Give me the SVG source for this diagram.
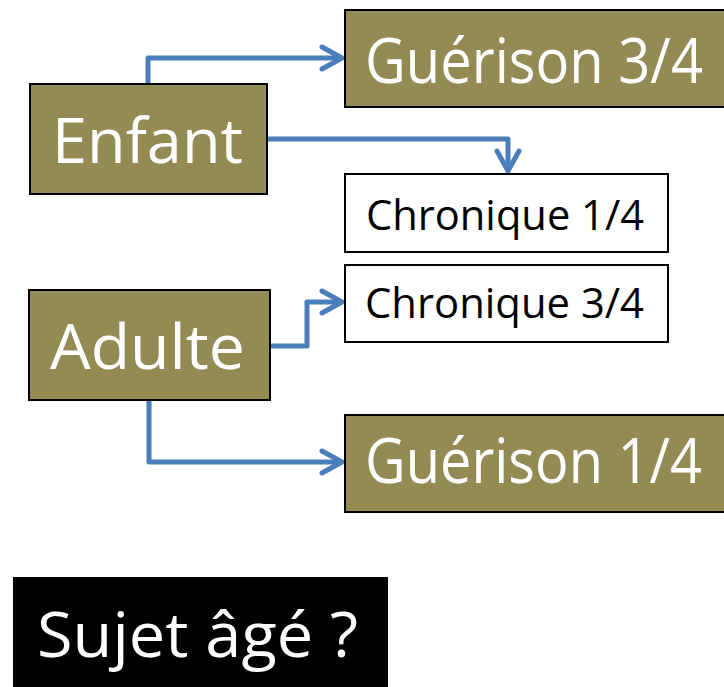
<svg xmlns="http://www.w3.org/2000/svg" width="724" height="687" viewBox="0 0 724 687">
<defs>
<style>
.olive{fill:#948a54;stroke:#000;stroke-width:2}
.white{fill:#fff;stroke:#000;stroke-width:2}
.big{font-family:"Open Sans","Liberation Sans",sans-serif;font-size:63px;fill:#fff}
.small{font-family:"Open Sans","Liberation Sans",sans-serif;font-size:42px;fill:#000}
.conn{fill:none;stroke:#4a7ebb;stroke-width:5;stroke-linejoin:round}
.head{fill:none;stroke:#4a7ebb;stroke-width:5;stroke-linecap:round;stroke-linejoin:round}
</style>
</defs>
<rect width="724" height="687" fill="#fff"/>
<g id="connectors">
<path class="conn" d="M148,84 V58 H341"/>
<path class="head" d="M322,47 L342,58 L322,69"/>
<path class="conn" d="M267,139 H508 V170"/>
<path class="head" d="M497,151 L508,171 L519,151"/>
<path class="conn" d="M271,346 H307 V302 H341"/>
<path class="head" d="M322,291 L342,302 L322,313"/>
<path class="conn" d="M149,400 V462 H341"/>
<path class="head" d="M322,451 L342,462 L322,473"/>
</g>
<g id="guerison34">
<rect class="olive" x="345" y="10" width="390" height="97"/>
<text class="big" x="365" y="83" textLength="338" lengthAdjust="spacingAndGlyphs">Guérison 3/4</text>
</g>
<g id="enfant">
<rect class="olive" x="30" y="84" width="237" height="110"/>
<text class="big" x="52" y="163" textLength="191" lengthAdjust="spacingAndGlyphs">Enfant</text>
</g>
<g id="chronique14">
<rect class="white" x="345" y="174" width="323" height="78"/>
<text class="small" x="366" y="230" textLength="278" lengthAdjust="spacingAndGlyphs">Chronique 1/4</text>
</g>
<g id="chronique34">
<rect class="white" x="345" y="265" width="323" height="77"/>
<text class="small" x="365" y="318" textLength="279" lengthAdjust="spacingAndGlyphs">Chronique 3/4</text>
</g>
<g id="adulte">
<rect class="olive" x="29" y="290" width="241" height="110"/>
<text class="big" x="50" y="369" textLength="195" lengthAdjust="spacingAndGlyphs">Adulte</text>
</g>
<g id="guerison14">
<rect class="olive" x="345" y="415" width="390" height="97"/>
<text class="big" x="365" y="483" textLength="337" lengthAdjust="spacingAndGlyphs">Guérison 1/4</text>
</g>
<g id="sujet">
<rect x="13" y="577" width="375" height="120" fill="#000"/>
<text class="big" x="37" y="657" textLength="321" lengthAdjust="spacingAndGlyphs">Sujet âgé ?</text>
</g>
</svg>
